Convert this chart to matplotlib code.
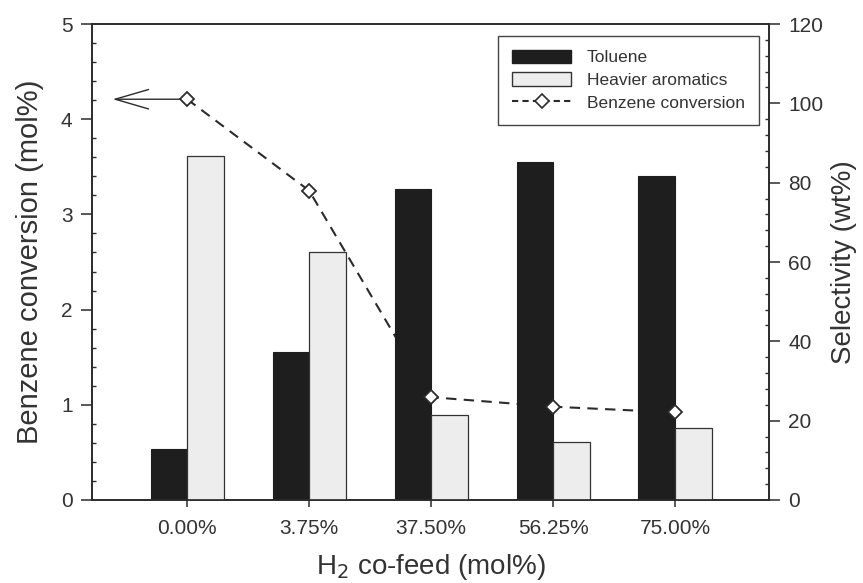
import numpy as np
import matplotlib
matplotlib.use("Agg")
import matplotlib.pyplot as plt
from matplotlib.ticker import MultipleLocator
from matplotlib.transforms import ScaledTranslation
from matplotlib.lines import Line2D
from matplotlib.patches import Patch

plt.rcParams['font.family'] = ['Liberation Sans', 'DejaVu Sans']

# H2 co-feed levels
feeds = ["0.00%", "3.75%", "37.50%", "56.25%", "75.00%"]
# selectivity, wt%
toluene = [12.9, 37.3, 78.4, 85.2, 81.7]
heavier = [86.7, 62.5, 21.4, 14.6, 18.1]
# benzene conversion, mol%
conversion = [4.21, 3.25, 1.08, 0.98, 0.92]

ink = "#2b2b2b"
txt = "#333333"
x = np.arange(len(feeds))
w = 0.30

fig = plt.figure(figsize=(8.63, 5.83), dpi=100)
ax = fig.add_axes([0.1066, 0.1424, 0.7845, 0.8164])
ax2 = ax.twinx()

# dashed line sits behind the bars, diamonds sit on top
ax2.plot(x, conversion, color=ink, lw=1.5, ls=(0, (5, 3.5)), zorder=1,
         transform=ax.transData)
ax2.bar(x - w / 2, toluene, w, color="#1e1e1e", edgecolor="#1e1e1e",
        lw=0.8, zorder=2)
ax2.bar(x + w / 2, heavier, w, color="#ededed", edgecolor="#333333",
        lw=0.9, zorder=2)
ax2.plot(x, conversion, ls="none", marker="D", ms=7.5, mfc="white",
         mec=ink, mew=1.3, zorder=3, transform=ax.transData)

# arrow pointing at the left axis
ax2.annotate("", xy=(x[0] - 0.61, conversion[0]),
             xytext=(x[0] - 0.06, conversion[0]),
             xycoords=ax.transData, textcoords=ax.transData,
             arrowprops=dict(arrowstyle="->,head_length=2.4,head_width=0.7",
                             color=ink, lw=1.0, shrinkA=0, shrinkB=0))

ax.set_xlim(-0.78, 4.77)
ax.set_ylim(0, 5)
ax2.set_ylim(0, 120)

ax.set_xticks(x)
ax.set_xticklabels(feeds)
offset = ScaledTranslation(0.13, 0, fig.dpi_scale_trans)
for lab in ax.get_xticklabels():
    lab.set_transform(lab.get_transform() + offset)

ax.yaxis.set_major_locator(MultipleLocator(1))
ax.yaxis.set_minor_locator(MultipleLocator(0.2))
ax2.yaxis.set_major_locator(MultipleLocator(20))
ax2.yaxis.set_minor_locator(MultipleLocator(4))

for a in (ax, ax2):
    for s in a.spines.values():
        s.set_color(ink)
        s.set_linewidth(1.2)
    a.tick_params(axis="both", which="major", direction="out", length=8,
                  width=1.1, color=ink, labelcolor=txt, labelsize=15,
                  pad=6)
    a.tick_params(axis="y", which="minor", direction="in", length=3,
                  width=1.0, color=ink)
ax.tick_params(axis="x", which="major", length=5, pad=9)

ax.set_ylabel("Benzene conversion (mol%)", fontsize=21, color=txt,
              labelpad=12)
ax2.set_ylabel("Selectivity (wt%)", fontsize=20, color=txt,
               labelpad=5)
ax.set_xlabel("H$_2$ co-feed (mol%)", fontsize=20, color=txt,
              labelpad=10)

handles = [
    Patch(facecolor="#1e1e1e", edgecolor="#1e1e1e"),
    Patch(facecolor="#ededed", edgecolor="#333333"),
    Line2D([], [], color=ink, lw=1.5, ls=(0, (3, 2)), marker="D", ms=7,
           mfc="white", mec=ink, mew=1.2),
]
leg = ax2.legend(handles, ["Toluene", "Heavier aromatics", "Benzene conversion"],
                 loc="upper right", bbox_to_anchor=(0.985, 0.975),
                 borderaxespad=0, fontsize=12.5, handlelength=3.4,
                 handleheight=0.8, handletextpad=0.9, borderpad=0.8,
                 labelspacing=0.4, fancybox=False, framealpha=1,
                 edgecolor="#444444")
leg.get_frame().set_linewidth(1.0)
for t in leg.get_texts():
    t.set_color(txt)

fig.savefig("out.png", dpi=100)
